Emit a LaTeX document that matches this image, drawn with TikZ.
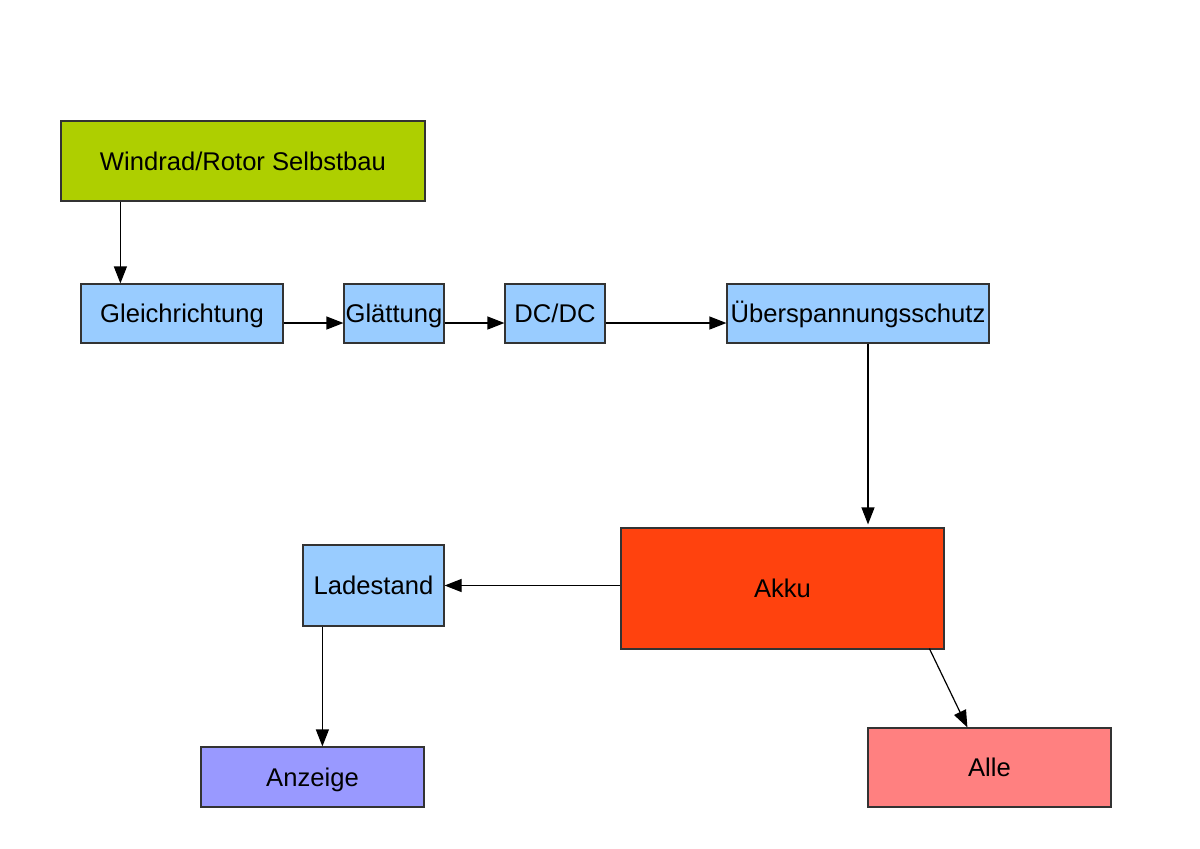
\documentclass[tikz,border=0pt]{standalone}
\usepackage{fontspec}
\setmainfont{Liberation Sans}
\usetikzlibrary{arrows.meta,calc}
\definecolor{cgreen}{HTML}{AECF00}
\definecolor{cblue}{HTML}{99CCFF}
\definecolor{corange}{HTML}{FF420E}
\definecolor{cviolet}{HTML}{9999FF}
\definecolor{csalmon}{HTML}{FF8080}
\definecolor{cline}{HTML}{333333}
\begin{document}
\begin{tikzpicture}[x=0.5pt,y=-0.5pt,
  bx/.style={draw=cline,line width=0.6pt,rectangle,inner sep=0pt,
    text height=9.2pt,text depth=0pt,
    font=\fontsize{12.8}{15}\selectfont,text=black},
  arr/.style={draw=black,line width=0.6pt,-{Triangle[length=8.5pt,width=6.5pt]}}]
\useasboundingbox[fill=white] (0,0) rectangle (1200,848);
\node[bx,fill=cgreen,minimum width=182pt,minimum height=40pt] (windrad) at (243,161) {Windrad/Rotor Selbstbau};
\node[bx,fill=cblue,minimum width=101pt,minimum height=29.5pt] (gleich) at (182,313.5) {Gleichrichtung};
\node[bx,fill=cblue,minimum width=50pt,minimum height=29.5pt] (glatt) at (394,313.5) {Glättung};
\node[bx,fill=cblue,minimum width=50pt,minimum height=29.5pt] (dcdc) at (555,313.5) {DC/DC};
\node[bx,fill=cblue,minimum width=131pt,minimum height=29.5pt] (ueber) at (858,313.5) {Überspannungsschutz};
\node[bx,fill=corange,minimum width=161.5pt,minimum height=60.5pt] (akku) at (782.5,588.5) {Akku};
\node[bx,fill=cblue,minimum width=70.5pt,minimum height=40.5pt] (lade) at (373.5,585.5) {Ladestand};
\node[bx,fill=cviolet,minimum width=111.5pt,minimum height=30pt] (anz) at (312.5,777) {Anzeige};
\node[bx,fill=csalmon,minimum width=121.5pt,minimum height=39.5pt] (alle) at (989.5,767.5) {Alle};
% connectors
\draw[arr] ([xshift=30pt]windrad.south west) -- ([xshift=30pt]windrad.south west |- gleich.north);
\draw[arr] ([yshift=-4.75pt]gleich.east) -- ([yshift=-4.75pt]glatt.west);
\draw[arr] ([yshift=-4.75pt]glatt.east) -- ([yshift=-4.75pt]dcdc.west);
\draw[arr] ([yshift=-4.75pt]dcdc.east) -- ([yshift=-4.75pt]ueber.west);
\draw[arr,shorten >=1.5pt] ([xshift=5pt]ueber.south) -- ([xshift=5pt]ueber.south |- akku.north);
\draw[arr] (lade.east -| akku.west) -- (lade.east);
\draw[arr] ([xshift=10pt]lade.south west) -- ([xshift=10pt]lade.south west |- anz.north);
\draw[arr] ([xshift=154.5pt,yshift=0.5pt]akku.south west) -- ([xshift=50pt]alle.north west);
\end{tikzpicture}
\end{document}
